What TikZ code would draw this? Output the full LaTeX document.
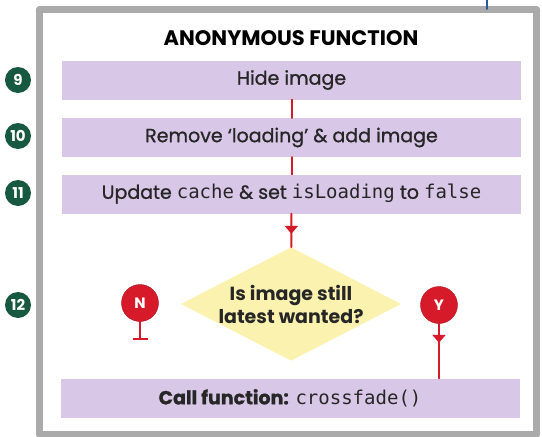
\documentclass[tikz,border=0pt]{standalone}
\usepackage{fontspec}
\setmainfont{Poppins}
\setmonofont{DejaVu Sans Mono}
\newfontfamily\semibf{Poppins}[FakeBold=1]
\usetikzlibrary{shapes.geometric,arrows.meta,decorations.markings}
\definecolor{stepviolet}{RGB}{217,199,232}
\definecolor{flowred}{RGB}{214,26,42}
\definecolor{stepgreen}{RGB}{22,88,64}
\definecolor{askyellow}{RGB}{250,242,174}
\definecolor{framegray}{RGB}{170,170,170}
\definecolor{linkblue}{RGB}{40,90,150}
\newcommand{\code}[1]{{\ttfamily\mdseries #1}}

\tikzset{
  stepbox/.style={fill=stepviolet,minimum width=459pt,minimum height=39pt,inner sep=0pt,text=black!85,font=\semibf\fontsize{19}{22}\selectfont},
  stepnum/.style={circle,fill=stepgreen,minimum size=26pt,inner sep=0pt,text=white,font=\bfseries\fontsize{15}{15}\selectfont},
  answer/.style={circle,fill=flowred,draw=flowred!80!black,minimum size=37pt,inner sep=0pt,text=white,font=\bfseries\fontsize{15}{15}\selectfont},
  ask/.style={diamond,aspect=1.93,fill=askyellow,minimum width=220pt,minimum height=113pt,inner sep=0pt,align=center,text=black!85,font=\bfseries\fontsize{19}{23}\selectfont},
  flow/.style={flowred,line width=2pt},
  midtip/.style={postaction={decorate},decoration={markings,mark=at position #1 with {\arrow{Triangle[width=13pt,length=8pt]}}}}
}

\begin{document}
\begin{tikzpicture}[x=1pt,y=-1pt,line cap=round,line join=round]
\useasboundingbox (0,0) rectangle (542,437);

\draw [framegray,line width=7pt] (39.5,9) rectangle (536.5,434);
\coordinate (fromabove) at (487,0);
\draw [linkblue,line width=2pt] (fromabove) -- (487,9);

\node (title) at (291,38) {\bfseries\fontsize{21}{24}\selectfont ANONYMOUS FUNCTION};

\node[stepbox] (hide) at (291.5,80) {Hide image};
\node[stepbox] (remove) at (291.5,137.5) {Remove ‘loading’ \& add image};
\node[stepbox] (update) at (291.5,194) {Update \code{cache} \& set \code{isLoading} to \code{false}};
\node[ask] (latest) at (291,304) {Is image still\\latest wanted?};
\node[stepbox] (call) at (290,398) {{\bfseries Call function:} \code{crossfade()}};

\node[stepnum] (n9) at (18,80) {9};
\node[stepnum] (n10) at (18,136) {10};
\node[stepnum] (n11) at (18,193) {11};
\node[stepnum] (n12) at (18,305) {12};

\node[answer] (no) at (140,303) {N};
\node[answer] (yes) at (439,305) {Y};
\coordinate (nostop) at (140,340);

\draw [flow] (hide) -- (remove);
\draw [flow] (remove) -- (update);
\draw [flow,midtip=0.6] (update) -- (latest);
\draw [flow,-{Bar[width=15pt]}] (no) -- (nostop);
\draw [flow,midtip=0.35] (yes) -- (yes |- call.north);

\end{tikzpicture}
\end{document}
